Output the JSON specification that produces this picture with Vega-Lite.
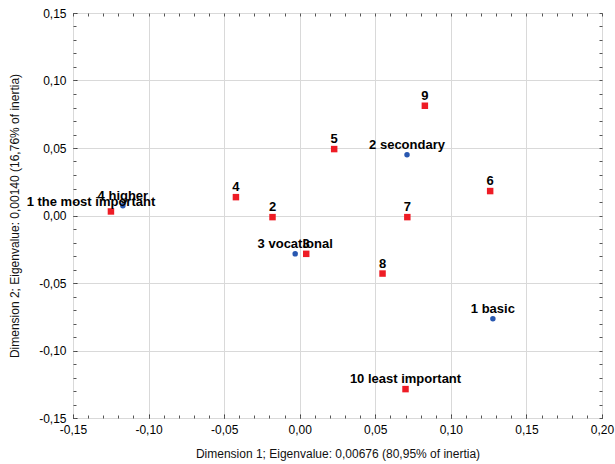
{
  "$schema": "https://vega.github.io/schema/vega-lite/v6.json",
  "autosize": "none",
  "padding": {"left": 73, "top": 13, "right": 13, "bottom": 46},
  "width": 529,
  "height": 405,
  "background": "white",
  "config": {
    "view": {"stroke": "#000000", "strokeWidth": 1},
    "font": "Liberation Sans",
    "axis": {
      "domain": false,
      "labelFont": "Liberation Sans",
      "labelFontSize": 12,
      "labelColor": "#000000",
      "titleFont": "Liberation Sans",
      "titleFontSize": 12,
      "titleFontWeight": "normal",
      "titleColor": "#111111",
      "gridColor": "#d9d9d9",
      "gridWidth": 1,
      "gridOpacity": 1
    }
  },
  "data": {
    "values": [
      {"label": "1 the most important", "x": -0.1249, "y": 0.0030, "group": "row"},
      {"label": "2", "x": -0.0180, "y": -0.0012, "group": "row"},
      {"label": "3", "x": 0.0043, "y": -0.0284, "group": "row"},
      {"label": "4", "x": -0.0422, "y": 0.0136, "group": "row"},
      {"label": "5", "x": 0.0228, "y": 0.0492, "group": "row"},
      {"label": "6", "x": 0.1260, "y": 0.0181, "group": "row"},
      {"label": "7", "x": 0.0712, "y": -0.0012, "group": "row"},
      {"label": "8", "x": 0.0548, "y": -0.0430, "group": "row"},
      {"label": "9", "x": 0.0828, "y": 0.0813, "group": "row"},
      {"label": "10 least important", "x": 0.0700, "y": -0.1286, "group": "row"},
      {"label": "1 basic", "x": 0.1278, "y": -0.0765, "group": "col"},
      {"label": "2 secondary", "x": 0.0710, "y": 0.0450, "group": "col"},
      {"label": "3 vocational", "x": -0.0030, "y": -0.0284, "group": "col"},
      {"label": "4 higher", "x": -0.1170, "y": 0.0072, "group": "col"}
    ]
  },
  "resolve": {"axis": {"x": "independent", "y": "independent"}},
  "layer": [
    {
      "mark": {"type": "point", "filled": true, "opacity": 1},
      "encoding": {
        "x": {
          "field": "x", "type": "quantitative",
          "scale": {"domain": [-0.15, 0.2], "nice": false, "zero": false},
          "axis": {
            "orient": "bottom",
            "values": [-0.15, -0.1, -0.05, 0, 0.05, 0.1, 0.15, 0.2],
            "labelExpr": "replace(replace(format(datum.value, '.2f'), '.', ','), '\u2212', '-')",
            "grid": true,
            "ticks": true,
            "tickSize": -4,
            "tickColor": "#333333",
            "labelPadding": 10,
            "labelFlush": false,
            "title": "Dimension 1; Eigenvalue: 0,00676 (80,95% of inertia)",
            "titlePadding": 13
          }
        },
        "y": {
          "field": "y", "type": "quantitative",
          "scale": {"domain": [-0.15, 0.15], "nice": false, "zero": false},
          "axis": {
            "orient": "left",
            "values": [-0.15, -0.1, -0.05, 0, 0.05, 0.1, 0.15],
            "labelExpr": "replace(replace(format(datum.value, '.2f'), '.', ','), '\u2212', '-')",
            "grid": true,
            "ticks": true,
            "tickSize": -4,
            "tickColor": "#333333",
            "labelPadding": 11,
            "labelFlush": false,
            "title": "Dimension 2; Eigenvalue: 0,00140 (16,76% of inertia)",
            "titlePadding": 17
          }
        },
        "color": {
          "field": "group", "type": "nominal",
          "scale": {"domain": ["row", "col"], "range": ["#ee1c25", "#2857b0"]},
          "legend": null
        },
        "shape": {
          "field": "group", "type": "nominal",
          "scale": {"domain": ["row", "col"], "range": ["square", "circle"]},
          "legend": null
        },
        "size": {
          "field": "group", "type": "nominal",
          "scale": {"domain": ["row", "col"], "range": [42, 30]},
          "legend": null
        }
      }
    },
    {
      "transform": [{"filter": "datum.label !== '1 the most important'"}],
      "mark": {"type": "text", "baseline": "bottom", "align": "center", "dy": -3, "fontSize": 13, "fontWeight": "bold", "color": "#000000"},
      "encoding": {
        "x": {
          "field": "x", "type": "quantitative",
          "axis": {
            "orient": "top",
            "values": [-0.15,-0.14,-0.13,-0.12,-0.11,-0.1,-0.09,-0.08,-0.07,-0.06,-0.05,-0.04,-0.03,-0.02,-0.01,0,0.01,0.02,0.03,0.04,0.05,0.06,0.07,0.08,0.09,0.1,0.11,0.12,0.13,0.14,0.15,0.16,0.17,0.18,0.19,0.2],
            "labels": false, "grid": false, "ticks": true, "tickSize": -3, "tickColor": "#555555", "title": null
          }
        },
        "y": {
          "field": "y", "type": "quantitative",
          "axis": {
            "orient": "right",
            "values": [-0.15,-0.14,-0.13,-0.12,-0.11,-0.1,-0.09,-0.08,-0.07,-0.06,-0.05,-0.04,-0.03,-0.02,-0.01,0,0.01,0.02,0.03,0.04,0.05,0.06,0.07,0.08,0.09,0.1,0.11,0.12,0.13,0.14,0.15],
            "labels": false, "grid": false, "ticks": true, "tickSize": -3, "tickColor": "#555555", "title": null
          }
        },
        "text": {"field": "label", "type": "nominal"}
      }
    },
    {
      "transform": [{"filter": "datum.label === '1 the most important'"}],
      "mark": {"type": "text", "baseline": "bottom", "align": "center", "dx": -20, "dy": -2, "fontSize": 13, "fontWeight": "bold", "color": "#000000"},
      "encoding": {
        "x": {
          "field": "x", "type": "quantitative",
          "axis": {
            "orient": "bottom",
            "values": [-0.15,-0.14,-0.13,-0.12,-0.11,-0.1,-0.09,-0.08,-0.07,-0.06,-0.05,-0.04,-0.03,-0.02,-0.01,0,0.01,0.02,0.03,0.04,0.05,0.06,0.07,0.08,0.09,0.1,0.11,0.12,0.13,0.14,0.15,0.16,0.17,0.18,0.19,0.2],
            "labels": false, "grid": false, "ticks": true, "tickSize": -3, "tickColor": "#555555", "title": null
          }
        },
        "y": {
          "field": "y", "type": "quantitative",
          "axis": {
            "orient": "left",
            "values": [-0.15,-0.14,-0.13,-0.12,-0.11,-0.1,-0.09,-0.08,-0.07,-0.06,-0.05,-0.04,-0.03,-0.02,-0.01,0,0.01,0.02,0.03,0.04,0.05,0.06,0.07,0.08,0.09,0.1,0.11,0.12,0.13,0.14,0.15],
            "labels": false, "grid": false, "ticks": true, "tickSize": -3, "tickColor": "#555555", "title": null
          }
        },
        "text": {"field": "label", "type": "nominal"}
      }
    }
  ]
}
